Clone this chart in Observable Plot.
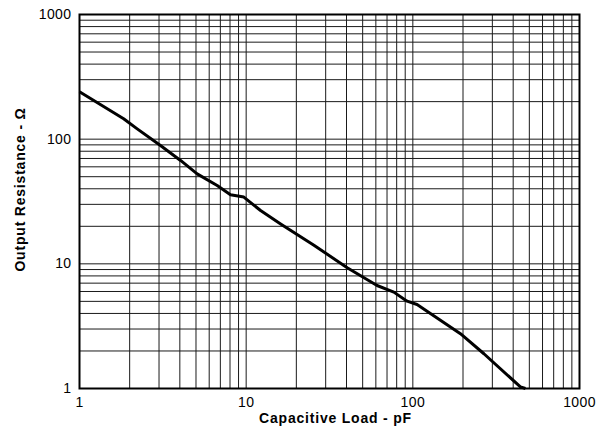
<!DOCTYPE html>
<html>
<head>
<meta charset="utf-8">
<script src="https://cdn.jsdelivr.net/npm/d3@7"></script>
<script src="https://cdn.jsdelivr.net/npm/@observablehq/plot@0.6"></script>
<style>
  html, body { margin: 0; padding: 0; background: #fff; }
  #chart svg { display: block; font-family: "Liberation Sans", Arial, sans-serif; }
  #chart svg .ttl text { letter-spacing: 0.8px; }
  #chart svg .tk text { letter-spacing: 0.4px; }
</style>
</head>
<body>
<div id="chart"></div>
<script>
// Capacitive load (pF) and output resistance (ohm)
const capLoad = [1, 1.84, 2.22, 3.06, 4.04, 5.08, 6.7, 8.05, 9.68, 12.2, 16.1, 25.5, 40.4, 61, 76.9, 92.4, 106, 193, 267, 442, 474];
const outRes  = [240, 146, 121, 89, 67.5, 52.7, 42.5, 35.8, 34.3, 26.8, 20.9, 14.1, 9.3, 6.7, 5.93, 5.02, 4.72, 2.75, 1.9, 1.03, 1.0];

const xTicks = [1, 10, 100, 1000];
const yTicks = [1, 10, 100, 1000];
const xTitle = "Capacitive Load - pF";
const yTitle = "Output Resistance - Ω";

const gridVals = [];
for (const d of [1, 10, 100]) for (let k = 1; k <= 9; k++) gridVals.push(k * d);
gridVals.push(1000);

const data = capLoad.map((c, i) => ({cap: c, res: outRes[i]}));

const chart = Plot.plot({
  width: 603,
  height: 432,
  marginLeft: 79,
  marginRight: 24,
  marginTop: 14,
  marginBottom: 44,
  style: {fontFamily: "Liberation Sans, Arial, sans-serif", fontSize: "14px", color: "#000", background: "#fff"},
  x: {type: "log", domain: [1, 1000]},
  y: {type: "log", domain: [1, 1000]},
  marks: [
    Plot.ruleX(gridVals, {stroke: "#1a1a1a", strokeWidth: 1}),
    Plot.ruleY(gridVals, {stroke: "#1a1a1a", strokeWidth: 1}),
    Plot.axisX({ticks: xTicks, tickSize: 0, tickPadding: 9, tickFormat: d => String(d), label: null, fontSize: 14, fill: "#000", className: "tk"}),
    Plot.axisY({ticks: yTicks, tickSize: 0, tickPadding: 8, tickFormat: d => String(d), label: null, fontSize: 14, fill: "#000", className: "tk"}),
    Plot.line(data, {x: "cap", y: "res", stroke: "#000", strokeWidth: 3, strokeLinejoin: "round", strokeLinecap: "butt"}),
    Plot.frame({stroke: "#000", strokeWidth: 2}),
    Plot.text([xTitle], {frameAnchor: "bottom", textAnchor: "middle", text: d => d, dy: 34, dx: 6, fontWeight: "bold", fontSize: 14, fill: "#000", className: "ttl"}),
    Plot.text([yTitle], {frameAnchor: "left", textAnchor: "middle", text: d => d, rotate: -90, dx: -59, dy: -12, fontWeight: "bold", fontSize: 14, fill: "#000", className: "ttl"})
  ]
});
document.getElementById("chart").appendChild(chart);
</script>
</body>
</html>
